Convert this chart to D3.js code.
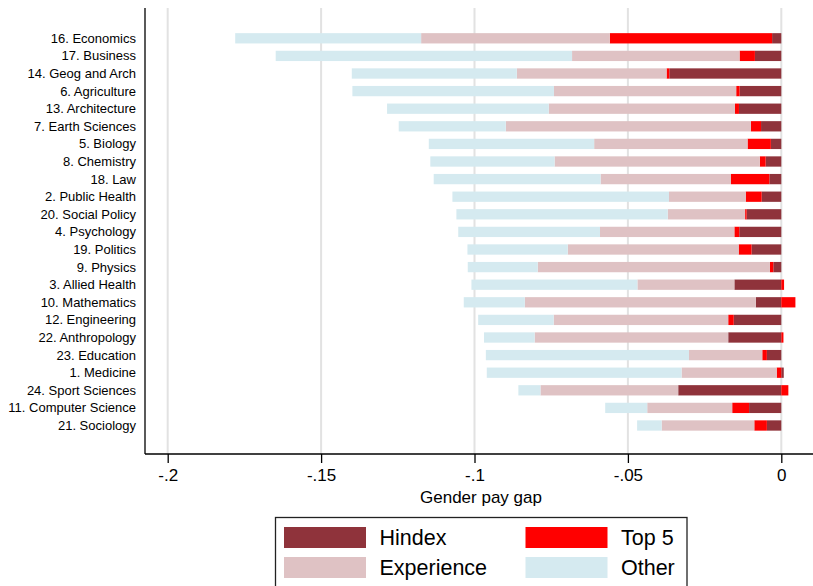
<!DOCTYPE html>
<html>
<head>
<meta charset="utf-8">
<script src="https://cdn.jsdelivr.net/npm/d3@7"></script>
<style>
  html, body { margin: 0; padding: 0; background: #fff; }
  svg { display: block; font-family: "Liberation Sans", Arial, Helvetica, sans-serif; }
</style>
</head>
<body>
<svg id="chart" width="813" height="586"></svg>
<script>
// Fields, top to bottom
const fields = [
  "16. Economics", "17. Business", "14. Geog and Arch", "6. Agriculture",
  "13. Architecture", "7. Earth Sciences", "5. Biology", "8. Chemistry",
  "18. Law", "2. Public Health", "20. Social Policy", "4. Psychology",
  "19. Politics", "9. Physics", "3. Allied Health", "10. Mathematics",
  "12. Engineering", "22. Anthropology", "23. Education", "1. Medicine",
  "24. Sport Sciences", "11. Computer Science", "21. Sociology"
];

// Decomposition of the gender pay gap by component
const hindex = [
  -0.0030, -0.0086, -0.0365, -0.0136, -0.0138, -0.0066, -0.0034, -0.0051,
  -0.0039, -0.0064, -0.0113, -0.0137, -0.0097, -0.0026, -0.0153, -0.0083,
  -0.0155, -0.0173, -0.0047, 0.0008, -0.0336, -0.0105, -0.0047
];
const top5 = [
  -0.0529, -0.0050, -0.0009, -0.0011, -0.0013, -0.0033, -0.0076, -0.0019,
  -0.0125, -0.0052, -0.0005, -0.0016, -0.0042, -0.0011, 0.0009, 0.0046,
  -0.0018, 0.0007, -0.0015, -0.0015, 0.0023, -0.0055, -0.0041
];
const experience = [
  -0.0615, -0.0546, -0.0488, -0.0594, -0.0607, -0.0799, -0.0500, -0.0669,
  -0.0425, -0.0250, -0.0252, -0.0438, -0.0557, -0.0757, -0.0316, -0.0753,
  -0.0569, -0.0631, -0.0239, -0.0310, -0.0449, -0.0277, -0.0302
];
const other = [
  -0.0606, -0.0966, -0.0538, -0.0657, -0.0527, -0.0349, -0.0539, -0.0405,
  -0.0544, -0.0706, -0.0689, -0.0462, -0.0327, -0.0228, -0.0541, -0.0199,
  -0.0246, -0.0165, -0.0662, -0.0635, -0.0072, -0.0137, -0.0080
];

const tickValues = [-0.2, -0.15, -0.1, -0.05, 0];
const tickLabels = ["-.2", "-.15", "-.1", "-.05", "0"];
const axisTitle = "Gender pay gap";

const seriesKeys = ["Hindex", "Top 5", "Experience", "Other"];
const seriesColors = ["#8f333b", "#ff0000", "#dfc2c4", "#d5eaf0"];

// Table for the stack layout
const rows = fields.map((f, i) => ({
  field: f,
  "Hindex": hindex[i],
  "Top 5": top5[i],
  "Experience": experience[i],
  "Other": other[i]
}));

const svg = d3.select("#chart");

const plotTop = 8, plotBottom = 454, plotLeft = 145, plotRight = 813;

const x = d3.scaleLinear().domain([-0.2, 0]).range([167.7, 781.3]);
const y = d3.scaleBand()
  .domain(fields)
  .range([29.5, 434.3])
  .paddingInner(0.415)
  .paddingOuter(0.2075);
const color = d3.scaleOrdinal().domain(seriesKeys).range(seriesColors);

// Vertical grid lines
svg.append("g")
  .selectAll("line")
  .data(tickValues)
  .join("line")
  .attr("x1", d => x(d)).attr("x2", d => x(d))
  .attr("y1", plotTop).attr("y2", plotBottom)
  .attr("stroke", "#e2e2e2")
  .attr("stroke-width", 2);

// Stacked bars, negatives growing left from zero, positives right
const stacked = d3.stack()
  .keys(seriesKeys)
  .offset(d3.stackOffsetDiverging)(rows);

svg.append("g")
  .selectAll("g")
  .data(stacked)
  .join("g")
  .attr("fill", d => color(d.key))
  .selectAll("rect")
  .data(d => d)
  .join("rect")
  .attr("x", d => x(Math.min(d[0], d[1])))
  .attr("width", d => Math.abs(x(d[1]) - x(d[0])))
  .attr("y", d => y(d.data.field))
  .attr("height", y.bandwidth());

// Axis frame
svg.append("line")
  .attr("x1", plotLeft).attr("x2", plotLeft)
  .attr("y1", plotTop).attr("y2", plotBottom)
  .attr("stroke", "#000").attr("stroke-width", 1.3);

const xAxis = d3.axisBottom(x)
  .tickValues(tickValues)
  .tickFormat((d, i) => tickLabels[i])
  .tickSize(9)
  .tickPadding(6);

const gx = svg.append("g")
  .attr("transform", `translate(0,${plotBottom})`)
  .call(xAxis);
gx.select(".domain").remove();
gx.selectAll(".tick line").attr("stroke", "#000").attr("stroke-width", 1.3);
gx.selectAll(".tick text")
  .attr("font-size", 17)
  .attr("font-family", "'Liberation Sans', Arial, sans-serif")
  .attr("fill", "#000");
gx.append("line")
  .attr("x1", plotLeft).attr("x2", plotRight)
  .attr("y1", 0).attr("y2", 0)
  .attr("stroke", "#000").attr("stroke-width", 1.3);

// Category labels
svg.append("g")
  .selectAll("text")
  .data(fields)
  .join("text")
  .attr("x", 136)
  .attr("y", d => y(d) + y.bandwidth() / 2)
  .attr("dy", "0.35em")
  .attr("text-anchor", "end")
  .attr("font-size", 13)
  .attr("fill", "#000")
  .text(d => d);

// Axis title
svg.append("text")
  .attr("x", 481)
  .attr("y", 497)
  .attr("dy", "0.35em")
  .attr("text-anchor", "middle")
  .attr("font-size", 17)
  .attr("fill", "#000")
  .text(axisTitle);

// Legend
const legend = svg.append("g");
legend.append("rect")
  .attr("x", 275.5).attr("y", 517.5)
  .attr("width", 411.5).attr("height", 80)
  .attr("fill", "#fff")
  .attr("stroke", "#222").attr("stroke-width", 1.3);

const legendPos = [
  { col: 0, row: 0 }, { col: 1, row: 0 },
  { col: 0, row: 1 }, { col: 1, row: 1 }
];
const legendItems = legend.selectAll("g.item")
  .data(seriesKeys)
  .join("g")
  .attr("class", "item")
  .attr("transform", (d, i) =>
    `translate(${284 + legendPos[i].col * 241.5},${527 + legendPos[i].row * 30})`);

legendItems.append("rect")
  .attr("width", 82).attr("height", 21)
  .attr("fill", d => color(d));

legendItems.append("text")
  .attr("x", 95.5)
  .attr("y", 10.5)
  .attr("dy", "0.35em")
  .attr("font-size", 21.5)
  .attr("fill", "#000")
  .text(d => d);
</script>
</body>
</html>
